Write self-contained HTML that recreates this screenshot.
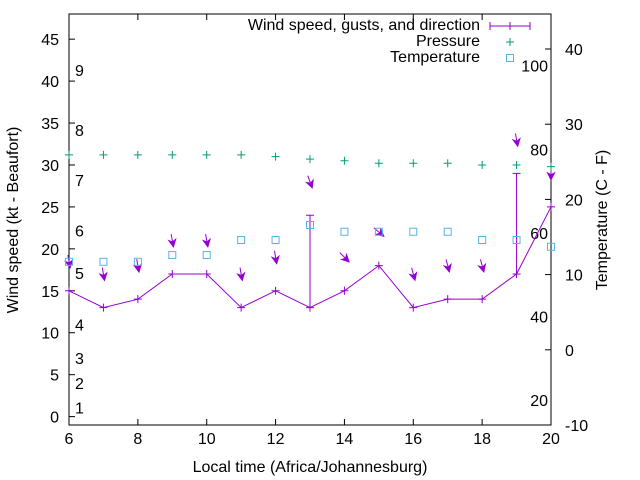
<!DOCTYPE html>
<html><head><meta charset="utf-8"><style>body{margin:0;background:#fff}svg{display:block;font-family:"Liberation Sans",sans-serif}</style></head>
<body>
<svg id="c" width="640" height="480"></svg>
<script>
const hours=[6,7,8,9,10,11,12,13,14,15,16,17,18,19,20];
const wind=[15,13,14,17,17,13,15,13,15,18,13,14,14,17,25];
const gustHours=[13,19];
const gustValues=[24,29];
const arrowLevel=[18.5,17,18,21,21,17,19,28,19,22,17,18,18,33,29];
const windDir=[350,350,350,350,350,350,350,340,315,310,345,345,345,350,360];
const pressure=[31.2,31.2,31.2,31.2,31.2,31.2,31.0,30.7,30.5,30.2,30.2,30.2,30.0,30.0,29.8];
const tempC=[11.7,11.7,11.7,12.6,12.6,14.6,14.6,16.6,15.7,15.7,15.7,15.7,14.6,14.6,13.7];
const xTicks=[6,8,10,12,14,16,18,20];
const yTicks=[0,5,10,15,20,25,30,35,40,45];
const y2Ticks=[-10,0,10,20,30,40];
const fLabels=[20,40,60,80,100];
const bftLabels=[1,2,3,4,5,6,7,8,9];
const bftPos=[1.1,4,7,11,17.1,22.2,28.2,34.2,41.3];

const L=69,R=551,T=14,B=425;
const X=h=>L+(h-6)*(R-L)/14;
const Y=v=>B-(v+1)*(B-T)/49;
const Y2=c=>B-(c+10)*7.52;
const svg=document.getElementById('c');
const NS='http://www.w3.org/2000/svg';
function el(t,a,p){const e=document.createElementNS(NS,t);for(const k in a)e.setAttribute(k,a[k]);(p||svg).appendChild(e);return e;}
function txt(s,x,y,a,p){const e=el('text',Object.assign({x:x,y:y,'font-size':16,fill:'#000'},a||{}),p);e.textContent=s;return e;}

const ax=el('g',{});
el('rect',{x:L,y:T,width:R-L,height:B-T,fill:'none',stroke:'#000','stroke-width':1},ax);
xTicks.forEach(h=>{const x=X(h);el('line',{x1:x,y1:B,x2:x,y2:B-6,stroke:'#000'},ax);el('line',{x1:x,y1:T,x2:x,y2:T+6,stroke:'#000'},ax);
 const t=txt(h,x,B+19,{'text-anchor':'middle'},ax);});
yTicks.forEach(v=>{const y=Y(v);el('line',{x1:L,y1:y,x2:L+6,y2:y,stroke:'#000'},ax);
 const t=txt(v,L-10,y+6,{'text-anchor':'end'},ax);});
y2Ticks.forEach(v=>{const y=Y2(v);el('line',{x1:R,y1:y,x2:R-6,y2:y,stroke:'#000'},ax);
 const t=txt(v,R+14,y+6,{'text-anchor':'start'},ax);});
fLabels.forEach(f=>{const t=txt(f,R-3,Y2((f-32)*5/9)+6,{'text-anchor':'end'},ax);});
bftLabels.forEach((b,i)=>{const t=txt(b,75,Y(bftPos[i])+6,{},ax);});
let t=txt('Local time (Africa/Johannesburg)',310,472,{'text-anchor':'middle'});
t=txt('Wind speed (kt - Beaufort)',0,0,{'text-anchor':'middle',transform:'translate(18,220) rotate(-90)'});
t=txt('Temperature (C - F)',0,0,{'text-anchor':'middle',transform:'translate(607,220) rotate(-90)'});

const P='#9400d3',G='#009e73',C='#56b4e9';
const wl=el('polyline',{points:hours.map((h,i)=>X(h)+','+Y(wind[i])).join(' '),fill:'none',stroke:P,'stroke-width':1});

hours.forEach((h,i)=>{const p=el('path',{d:`M${X(h)-4},${Y(wind[i])}h8M${X(h)},${Y(wind[i])-4}v8`,stroke:P});});
gustHours.forEach((h,k)=>{const i=hours.indexOf(h);const x=X(h),y1=Y(wind[i]),y2=Y(gustValues[k]);
 const p=el('path',{d:`M${x},${y1}V${y2}M${x-4},${y2}h8`,stroke:P,fill:'none'});});
hours.forEach((h,i)=>{const a=(windDir[i]+180)*Math.PI/180;const dx=Math.sin(a)*13,dy=-Math.cos(a)*13;
 const cx=X(h),cy=Y(arrowLevel[i]);const x0=cx-dx/2,y0=cy-dy/2,x1=cx+dx/2,y1=cy+dy/2;
 const g=el('g',{});
 el('line',{x1:x0,y1:y0,x2:x1,y2:y1,stroke:P},g);
 const ux=dx/13,uy=dy/13,px=-uy,py=ux;
 el('polygon',{points:`${x1},${y1} ${x1-ux*7+px*3.5},${y1-uy*7+py*3.5} ${x1-ux*5},${y1-uy*5} ${x1-ux*7-px*3.5},${y1-uy*7-py*3.5}`,fill:P,stroke:P},g);});
hours.forEach((h,i)=>{const x=X(h),y=Y(pressure[i]);const p=el('path',{d:`M${x-4},${y}h8M${x},${y-4}v8`,stroke:G});});
hours.forEach((h,i)=>{const r=el('rect',{x:X(h)-3.5,y:Y2(tempC[i])-3.5,width:7,height:7,fill:'none',stroke:C});});

const lg=el('g',{});
txt('Wind speed, gusts, and direction',480,30,{'text-anchor':'end'},lg);
el('path',{d:'M490,26H530M490,22v8M530,22v8M510,22v8',stroke:P},lg);
txt('Pressure',480,46,{'text-anchor':'end'},lg);
el('path',{d:'M506,42h8M510,38v8',stroke:G},lg);
txt('Temperature',480,62,{'text-anchor':'end'},lg);
el('rect',{x:506.5,y:54.5,width:7,height:7,fill:'none',stroke:C},lg);
</script>
</body></html>
